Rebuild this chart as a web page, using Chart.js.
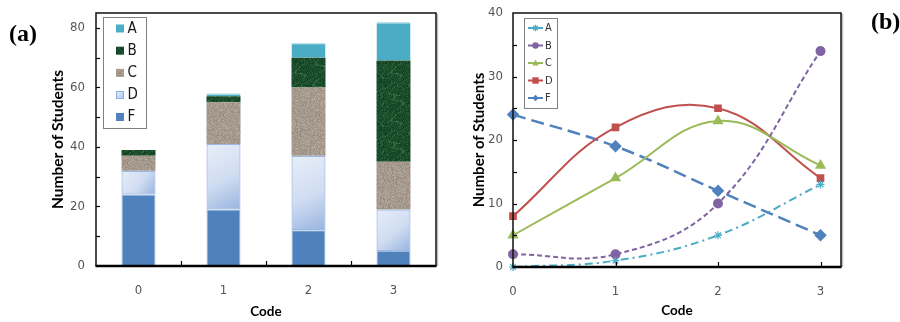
<!DOCTYPE html>
<html><head><meta charset="utf-8">
<script src="https://cdn.jsdelivr.net/npm/chart.js@4.4.1/dist/chart.umd.min.js"></script>
<style>
html,body{margin:0;padding:0;background:#fff;}
#wrap{position:relative;width:900px;height:322px;overflow:hidden;background:#fff;}
#ca{position:absolute;left:0;top:0;}
#cb{position:absolute;left:450px;top:0;}
.tag{position:absolute;font:bold 24px "Liberation Serif",serif;color:#000;line-height:26px;}
</style></head><body>
<div id="wrap">
<canvas id="ca" width="450" height="322"></canvas>
<canvas id="cb" width="450" height="322"></canvas>
<div class="tag" style="left:9px;top:20px;">(a)</div>
<div class="tag" style="left:871px;top:8px;">(b)</div>
</div>
<script>
// ---------- data ----------
const codes = ['0', '1', '2', '3'];
const codeValues = [0, 1, 2, 3];
const gradeA = [0, 1, 5, 13];
const gradeB = [2, 2, 10, 34];
const gradeC = [5, 14, 23, 16];
const gradeD = [8, 22, 25, 14];
const gradeF = [24, 19, 12, 5];
const gradeNames = ['A', 'B', 'C', 'D', 'F'];
const yTickStepA = 20;
const yTickStepB = 10;

// ---------- styling helpers ----------
const FONT_NUM = '"Liberation Sans Narrow","DejaVu Sans Condensed","Liberation Sans",sans-serif';
const FONT_TITLE = 'Lato,"Liberation Sans",sans-serif';
Chart.defaults.font.family = FONT_NUM;

function hash(x, y, s) { const v = Math.sin(x * 127.1 + y * 311.7 + s * 74.7) * 43758.5453; return v - Math.floor(v); }
function texture(r, g, b, amp, seed, veins) {
  const N = 48, c = document.createElement('canvas'); c.width = c.height = N;
  const cx = c.getContext('2d'); const img = cx.createImageData(N, N);
  for (let y = 0; y < N; y++) for (let x = 0; x < N; x++) {
    let n = (hash(x, y, seed) - 0.5) * 2 * amp;
    if (veins) { const v = Math.sin((x * 0.23 + y * 0.17) * 2 + Math.sin(y * 0.31 + x * 0.13) * 3.1); n += v > 0.92 ? 22 : 0; }
    const i = (y * N + x) * 4;
    img.data[i] = Math.max(0, Math.min(255, r + n)); img.data[i + 1] = Math.max(0, Math.min(255, g + n * 1.1)); img.data[i + 2] = Math.max(0, Math.min(255, b + n * 0.9)); img.data[i + 3] = 255;
  }
  cx.putImageData(img, 0, 0);
  return document.getElementById('ca').getContext('2d').createPattern(c, 'repeat');
}
const patB = texture(26, 76, 42, 14, 3, true);
const patC = texture(166, 154, 142, 16, 7, false);

function gradD(ctx) {
  const chart = ctx.chart;
  if (ctx.type !== 'data' || !chart.scales.x || !chart.scales.y) return '#c9d8f0';
  const xs = chart.scales.x, ys = chart.scales.y, i = ctx.dataIndex;
  const cx = xs.getPixelForValue(i);
  const y0 = ys.getPixelForValue(gradeF[i]), y1 = ys.getPixelForValue(gradeF[i] + gradeD[i]);
  if (![cx, y0, y1].every(Number.isFinite)) return '#c9d8f0';
  const g = chart.ctx.createLinearGradient(cx - 17, y1, cx + 17, y0);
  g.addColorStop(0, '#e8eef9'); g.addColorStop(0.55, '#cfdcf1'); g.addColorStop(1, '#98b4e0');
  return g;
}

// frame + inner tick marks
function framePlugin(cfg) {
  return {
    id: 'frame' + cfg.key,
    afterDatasetsDraw(chart) {
      const { ctx, chartArea: a, scales } = chart;
      ctx.save();
      ctx.strokeStyle = '#000';
      ctx.lineWidth = 1.2;
      cfg.yTicks.forEach(v => {
        const y = Math.round(scales.y.getPixelForValue(v)) + 0.5;
        ctx.beginPath(); ctx.moveTo(a.left, y); ctx.lineTo(a.left + 4, y); ctx.stroke();
      });
      cfg.xTicks(scales.x).forEach(px => {
        const x = Math.round(px) + 0.5;
        ctx.beginPath(); ctx.moveTo(x, a.bottom); ctx.lineTo(x, a.bottom - 5); ctx.stroke();
      });
      ctx.lineWidth = 1.5; ctx.strokeStyle = '#111';
      ctx.beginPath(); ctx.moveTo(a.left, a.bottom); ctx.lineTo(a.left, a.top); ctx.lineTo(a.right, a.top); ctx.lineTo(a.right, a.bottom); ctx.stroke();
      ctx.strokeStyle = 'rgba(0,0,0,0.25)'; ctx.lineWidth = 1.5;
      ctx.beginPath(); ctx.moveTo(a.right + 1.5, a.top + 1); ctx.lineTo(a.right + 1.5, a.bottom); ctx.stroke();
      ctx.strokeStyle = '#000'; ctx.lineWidth = 2.6;
      ctx.beginPath(); ctx.moveTo(a.left - 0.5, a.bottom); ctx.lineTo(a.right + 0.5, a.bottom); ctx.stroke();
      ctx.restore();
    }
  };
}

const legendBarPlugin = {
  id: 'legendBar',
  afterDraw(chart) {
    const { ctx } = chart;
    const box = { x: 103.5, y: 17.5, w: 43, h: 111 };
    ctx.save();
    ctx.fillStyle = '#fff'; ctx.fillRect(box.x, box.y, box.w, box.h);
    ctx.strokeStyle = '#808080'; ctx.lineWidth = 1; ctx.strokeRect(box.x, box.y, box.w, box.h);
    const ys = [28.5, 50.7, 72.9, 95, 117];
    const order = ['A', 'B', 'C', 'D', 'F'];
    order.forEach((name, k) => {
      const ds = chart.data.datasets.find(d => d.label === name);
      const y = ys[k];
      if (name === 'D') {
        const g = ctx.createLinearGradient(116, y - 4, 124, y + 4);
        g.addColorStop(0, '#eef3fb'); g.addColorStop(1, '#a9c1e6');
        ctx.fillStyle = g; ctx.fillRect(116, y - 4, 8, 8);
        ctx.strokeStyle = '#8eaedc'; ctx.lineWidth = 1; ctx.strokeRect(116.5, y - 3.5, 7, 7);
      } else {
        ctx.fillStyle = ds.backgroundColor; ctx.fillRect(116, y - 4, 8, 8);
      }
      ctx.fillStyle = '#1a1a1a'; ctx.font = '15px ' + FONT_NUM; ctx.textBaseline = 'middle'; ctx.textAlign = 'left';
      ctx.fillText(name, 127.5, y + 0.5);
    });
    ctx.restore();
  }
};

function drawMarker(ctx, style, x, y, r, color) {
  ctx.save(); ctx.fillStyle = color; ctx.strokeStyle = color; ctx.lineWidth = 1.2;
  ctx.beginPath();
  if (style === 'circle') { ctx.arc(x, y, r, 0, Math.PI * 2); ctx.fill(); }
  else if (style === 'rect') { ctx.fillRect(x - r, y - r, 2 * r, 2 * r); }
  else if (style === 'triangle') { ctx.moveTo(x, y - r * 1.1); ctx.lineTo(x + r, y + r * 0.8); ctx.lineTo(x - r, y + r * 0.8); ctx.closePath(); ctx.fill(); }
  else if (style === 'rectRot') { ctx.moveTo(x, y - r); ctx.lineTo(x + r, y); ctx.lineTo(x, y + r); ctx.lineTo(x - r, y); ctx.closePath(); ctx.fill(); }
  else if (style === 'star') {
    for (let k = 0; k < 4; k++) { const t = k * Math.PI / 4; ctx.moveTo(x - r * Math.cos(t), y - r * Math.sin(t)); ctx.lineTo(x + r * Math.cos(t), y + r * Math.sin(t)); }
    ctx.stroke();
  }
  ctx.restore();
}
const legendLinePlugin = {
  id: 'legendLine',
  afterDraw(chart) {
    const { ctx } = chart;
    const box = { x: 74.5, y: 18.5, w: 33, h: 90 };
    ctx.save();
    ctx.fillStyle = '#fff'; ctx.fillRect(box.x, box.y, box.w, box.h);
    ctx.strokeStyle = '#808080'; ctx.lineWidth = 1; ctx.strokeRect(box.x, box.y, box.w, box.h);
    const ys = [28, 45.5, 63, 80.5, 98];
    chart.data.datasets.forEach((ds, k) => {
      const y = ys[k];
      ctx.strokeStyle = ds.borderColor; ctx.lineWidth = 2; ctx.setLineDash([]);
      ctx.beginPath(); ctx.moveTo(78, y); ctx.lineTo(93, y); ctx.stroke();
      drawMarker(ctx, ds.pointStyle, 85.5, y, 3.2, ds.borderColor);
      ctx.fillStyle = '#333'; ctx.font = '11px ' + FONT_NUM; ctx.textBaseline = 'middle'; ctx.textAlign = 'left';
      ctx.fillText(ds.label, 95, y + 0.5);
    });
    ctx.restore();
  }
};

const tickFont = { family: FONT_NUM, size: 13 };
const tickColor = '#555';
const titleFont = { family: FONT_TITLE, size: 13.5, weight: 'bold' };

// ---------- chart (a): stacked bars ----------
new Chart(document.getElementById('ca'), {
  type: 'bar',
  data: {
    labels: codes,
    datasets: [
      { label: 'F', data: gradeF, backgroundColor: '#4f81bd', borderColor: '#9fbbe0', borderWidth: 1, borderSkipped: false },
      { label: 'D', data: gradeD, backgroundColor: gradD, borderColor: '#9ab8e2', borderWidth: 1.2, borderSkipped: false },
      { label: 'C', data: gradeC, backgroundColor: patC, borderWidth: 0 },
      { label: 'B', data: gradeB, backgroundColor: patB, borderWidth: 0 },
      { label: 'A', data: gradeA, backgroundColor: '#4bacc6', borderColor: '#b9e0ea', borderWidth: { top: 1.5 }, borderSkipped: false }
    ]
  },
  options: {
    responsive: false, animation: false, devicePixelRatio: 1,
    layout: { padding: { left: 0, right: 14, top: 13, bottom: 0 } },
    datasets: { bar: { barPercentage: 0.4, categoryPercentage: 1 } },
    plugins: { legend: { display: false }, tooltip: { enabled: false } },
    scales: {
      x: {
        stacked: true, grid: { display: false }, border: { display: false },
        ticks: { font: tickFont, color: tickColor, padding: 9 },
        title: { display: true, text: 'Code', font: titleFont, color: '#000', padding: { top: 0, bottom: 2 } },
        afterFit: s => { s.height = 56; }
      },
      y: {
        stacked: true, min: 0, max: 85, grid: { display: false }, border: { display: false },
        ticks: { stepSize: 10, includeBounds: false, font: tickFont, color: tickColor, padding: 3, callback: v => (v % yTickStepA === 0 ? v : '') },
        title: { display: true, text: 'Number of Students', font: { family: FONT_TITLE, size: 15.5, weight: 'bold' }, color: '#000', padding: { top: 49, bottom: 0 } },
        afterFit: s => { s.width = 96; }
      }
    }
  },
  plugins: [framePlugin({ key: 'a', yTicks: [10, 20, 30, 40, 50, 60, 70, 80], xTicks: xs => [0, 1, 2].map(v => (xs.getPixelForValue(v) + xs.getPixelForValue(v + 1)) / 2) }), legendBarPlugin]
});

// ---------- chart (b): lines ----------
const pts = arr => codeValues.map((c, i) => ({ x: c, y: arr[i] }));
new Chart(document.getElementById('cb'), {
  type: 'line',
  data: {
    datasets: [
      { label: 'A', data: pts(gradeA), borderColor: '#4bacc6', backgroundColor: '#4bacc6', borderWidth: 2, borderDash: [8, 4, 2, 4], pointStyle: 'star', pointRadius: 4, pointBorderWidth: 1.2, tension: 0.4 },
      { label: 'B', data: pts(gradeB), borderColor: '#8064a2', backgroundColor: '#8064a2', borderWidth: 2, borderDash: [5, 3], pointStyle: 'circle', pointRadius: 4, tension: 0.4 },
      { label: 'C', data: pts(gradeC), borderColor: '#9bbb59', backgroundColor: '#9bbb59', borderWidth: 2, pointStyle: 'triangle', pointRadius: 4.5, tension: 0.4 },
      { label: 'D', data: pts(gradeD), borderColor: '#c0504d', backgroundColor: '#c0504d', borderWidth: 2, pointStyle: 'rect', pointRadius: 4, tension: 0.4 },
      { label: 'F', data: pts(gradeF), borderColor: '#4f81bd', backgroundColor: '#4f81bd', borderWidth: 2.5, borderDash: [13, 6], pointStyle: 'rectRot', pointRadius: 4.5, tension: 0.4 }
    ]
  },
  options: {
    responsive: false, animation: false, devicePixelRatio: 1,
    layout: { padding: { left: 0, right: 59, top: 13, bottom: 0 } },
    elements: { point: { borderWidth: 1 } },
    datasets: { line: { clip: false } },
    plugins: { legend: { display: false }, tooltip: { enabled: false } },
    scales: {
      x: {
        type: 'linear', min: 0, max: 3.2, grid: { display: false }, border: { display: false },
        ticks: { stepSize: 1, includeBounds: false, font: tickFont, color: tickColor, padding: 9 },
        title: { display: true, text: 'Code', font: titleFont, color: '#000', padding: { top: 0, bottom: 3 } },
        afterFit: s => { s.height = 55; }
      },
      y: {
        min: 0, max: 40, grid: { display: false }, border: { display: false },
        ticks: { stepSize: yTickStepB, font: tickFont, color: tickColor, padding: 2 },
        title: { display: true, text: 'Number of Students', font: { family: FONT_TITLE, size: 15, weight: 'bold' }, color: '#000', padding: { top: 20, bottom: 0 } },
        afterFit: s => { s.width = 63; }
      }
    }
  },
  plugins: [framePlugin({ key: 'b', yTicks: [5, 10, 15, 20, 25, 30, 35], xTicks: xs => [1, 2, 3].map(v => xs.getPixelForValue(v)) }), legendLinePlugin]
});
</script>
</body></html>
